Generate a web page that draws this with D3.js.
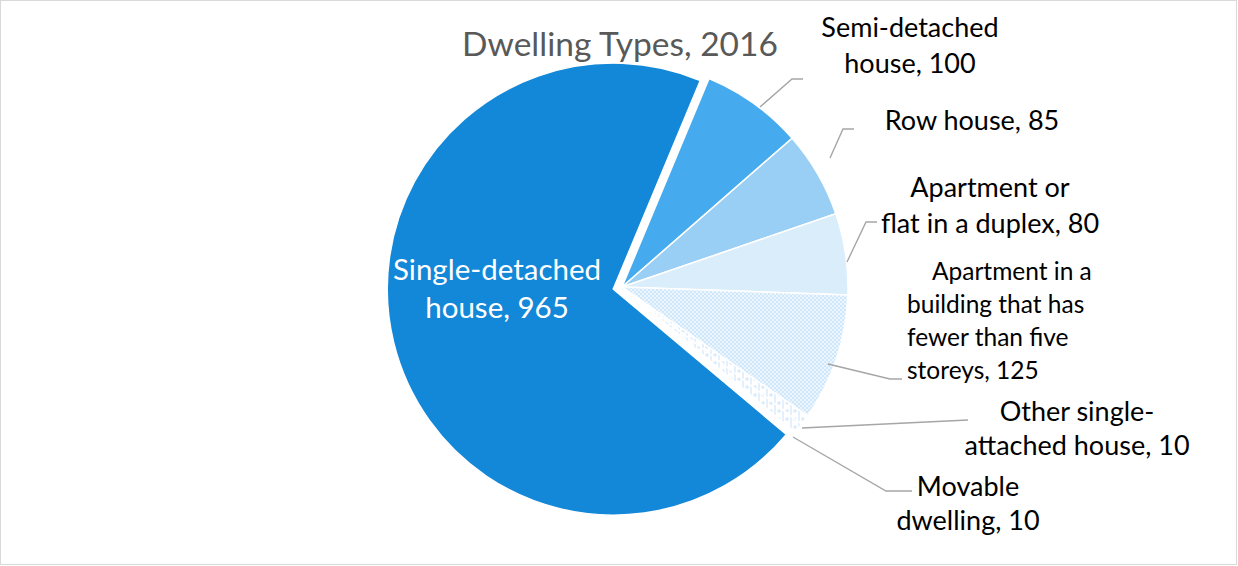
<!DOCTYPE html>
<html>
<head>
<meta charset="utf-8">
<script src="https://cdn.jsdelivr.net/npm/d3@7"></script>
<style>
  html, body { margin: 0; padding: 0; background: #fff; }
  svg { display: block; font-family: Lato, "Open Sans", sans-serif; }
</style>
</head>
<body>
<svg id="chart" width="1238" height="566"></svg>
<script>
const categories = [
  'Single-detached house',
  'Semi-detached house',
  'Row house',
  'Apartment or flat in a duplex',
  'Apartment in a building that has fewer than five storeys',
  'Other single-attached house',
  'Movable dwelling',
];
const values = [965, 100, 85, 80, 125, 10, 10];
const labelLines = [
  ['Single-detached', 'house, 965'],
  ['Semi-detached', 'house, 100'],
  ['Row house, 85'],
  ['Apartment or', 'flat in a duplex, 80'],
  ['Apartment in a', 'building that has', 'fewer than five', 'storeys, 125'],
  ['Other single-', 'attached house, 10'],
  ['Movable', 'dwelling, 10'],
];
const fills = ['#1387d8', '#45aaee', '#9acff5', '#daedfb', 'url(#checker)', 'url(#grid)', 'url(#grid)'];

// label placement (layout only): text anchor + leader polyline
const labelLayout = [
  { x: 497, y: 280, anchor: 'middle', dy: 38, size: 29.5, color: '#fff', leader: null },
  { x: 910, y: 37, anchor: 'middle', dy: 36, size: 27, color: '#000', leader: [[760, 107], [792, 79], [803, 79]] },
  { x: 972, y: 130, anchor: 'middle', dy: 36, size: 27, color: '#000', leader: [[830, 158], [843, 129], [854, 129]] },
  { x: 990, y: 197, anchor: 'middle', dy: 36, size: 27, color: '#000', leader: [[847, 262], [866, 222], [877, 222]] },
  { x: 907, y: 280, anchor: 'start', dy: 33, size: 24.5, color: '#000', indent: [25, 0, 0, 0], leader: [[828, 364], [890, 379], [902, 379]] },
  { x: 1077, y: 421, anchor: 'middle', dy: 34, size: 27, color: '#000', leader: [[802, 428], [968, 420]] },
  { x: 968, y: 496, anchor: 'middle', dy: 34, size: 27, color: '#000', leader: [[793, 437], [886, 491], [912, 491]] },
];

const svg = d3.select('#chart');
const defs = svg.append('defs');

const checker = defs.append('pattern')
  .attr('id', 'checker').attr('patternUnits', 'userSpaceOnUse')
  .attr('width', 4).attr('height', 4);
checker.append('rect').attr('width', 4).attr('height', 4).attr('fill', '#eef6fd');
checker.append('rect').attr('width', 2).attr('height', 2).attr('fill', '#cfe7fa');
checker.append('rect').attr('x', 2).attr('y', 2).attr('width', 2).attr('height', 2).attr('fill', '#cfe7fa');

const grid = defs.append('pattern')
  .attr('id', 'grid').attr('patternUnits', 'userSpaceOnUse')
  .attr('width', 8).attr('height', 8);
grid.append('rect').attr('width', 8).attr('height', 8).attr('fill', '#fff');
grid.append('path').attr('d', 'M1,0V8M5,2V6M3,4H7').attr('stroke', '#dcecfa').attr('stroke-width', 1.5).attr('fill', 'none');

svg.append('rect')
  .attr('x', 0.5).attr('y', 0.5).attr('width', 1236).attr('height', 564)
  .attr('fill', '#fff').attr('stroke', '#d9d9d9');

svg.append('text')
  .attr('x', 620).attr('y', 56)
  .attr('text-anchor', 'middle')
  .attr('font-size', 33.5)
  .attr('fill', '#595959')
  .text('Dwelling Types, 2016');

const cx = 622;
const cy = 287;
const radius = 226;
const explode = 9;
const startDeg = 130;

const pie = d3.pie()
  .sort(null)
  .startAngle(startDeg * Math.PI / 180)
  .endAngle((startDeg + 360) * Math.PI / 180);
const arcs = pie(values);
const arc = d3.arc().innerRadius(0).outerRadius(radius);

const slices = svg.append('g').attr('transform', `translate(${cx},${cy})`);
slices.selectAll('path')
  .data(arcs)
  .join('path')
  .attr('d', arc)
  .attr('fill', (d, i) => fills[i])
  .attr('stroke', '#fff')
  .attr('stroke-width', 1.5)
  .attr('transform', (d, i) => {
    if (i !== 0) return null;
    const mid = (d.startAngle + d.endAngle) / 2;
    return `translate(${Math.sin(mid) * explode},${-Math.cos(mid) * explode})`;
  })
  .append('title').text((d, i) => `${categories[i]}: ${values[i]}`);

const line = d3.line();
const leaders = svg.append('g');
labelLayout.forEach((layout) => {
  if (!layout.leader) return;
  leaders.append('path')
    .attr('d', line(layout.leader))
    .attr('fill', 'none')
    .attr('stroke', '#a6a6a6')
    .attr('stroke-width', 1.4);
});

const labels = svg.append('g');
labelLines.forEach((lines, i) => {
  const layout = labelLayout[i];
  const text = labels.append('text')
    .attr('text-anchor', layout.anchor)
    .attr('font-size', layout.size)
    .attr('fill', layout.color);
  lines.forEach((content, j) => {
    text.append('tspan')
      .attr('x', layout.x + (layout.indent ? layout.indent[j] : 0))
      .attr('y', layout.y + j * layout.dy)
      .text(content);
  });
});
</script>
</body>
</html>
